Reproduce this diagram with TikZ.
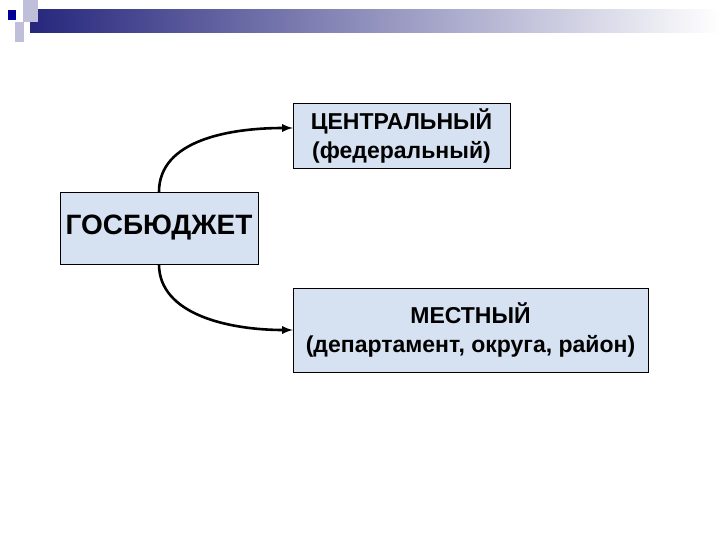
\documentclass[tikz,border=0pt]{standalone}
\usepackage{fontspec}
\setmainfont{Liberation Sans}
\definecolor{boxfill}{RGB}{214,226,242}
\begin{document}
\begin{tikzpicture}[x=1pt,y=-1pt,
 box/.style={draw=black,fill=boxfill,inner sep=0pt,align=center},
 arr/.style={-latex,line width=2.6pt}]
\useasboundingbox (0,0) rectangle (720,540);
\fill[white] (0,0) rectangle (720,540);
\shade[left color=blue!40!black!85, right color=white, shading angle=90] (30,10) rectangle (720,33);
\fill[blue!25!gray!40] (23,0) rectangle (38,22);
\fill[blue!25!gray!40] (15,22) rectangle (24,42);
\fill[blue!60!black] (8,10) rectangle (16,20);
\node[box,minimum width=198,minimum height=72,font=\bfseries\fontsize{28}{30}\selectfont] (g) at (159,228) {ГОСБЮДЖЕТ};
\node[box,minimum width=217,minimum height=65,font=\bfseries\fontsize{23}{29}\selectfont] (c) at (401.5,135.5) {ЦЕНТРАЛЬНЫЙ\\(федеральный)};
\node[box,minimum width=355,minimum height=84,font=\bfseries\fontsize{23}{29}\selectfont] (m) at (470.5,330) {МЕСТНЫЙ\\(департамент, округа, район)};
\draw[arr] (g.north) .. controls (159,140) and (230,128) .. (c.west|-0,128);
\draw[arr] (g.south) .. controls (159,315) and (230,330) .. (m.west);
\end{tikzpicture}
\end{document}
